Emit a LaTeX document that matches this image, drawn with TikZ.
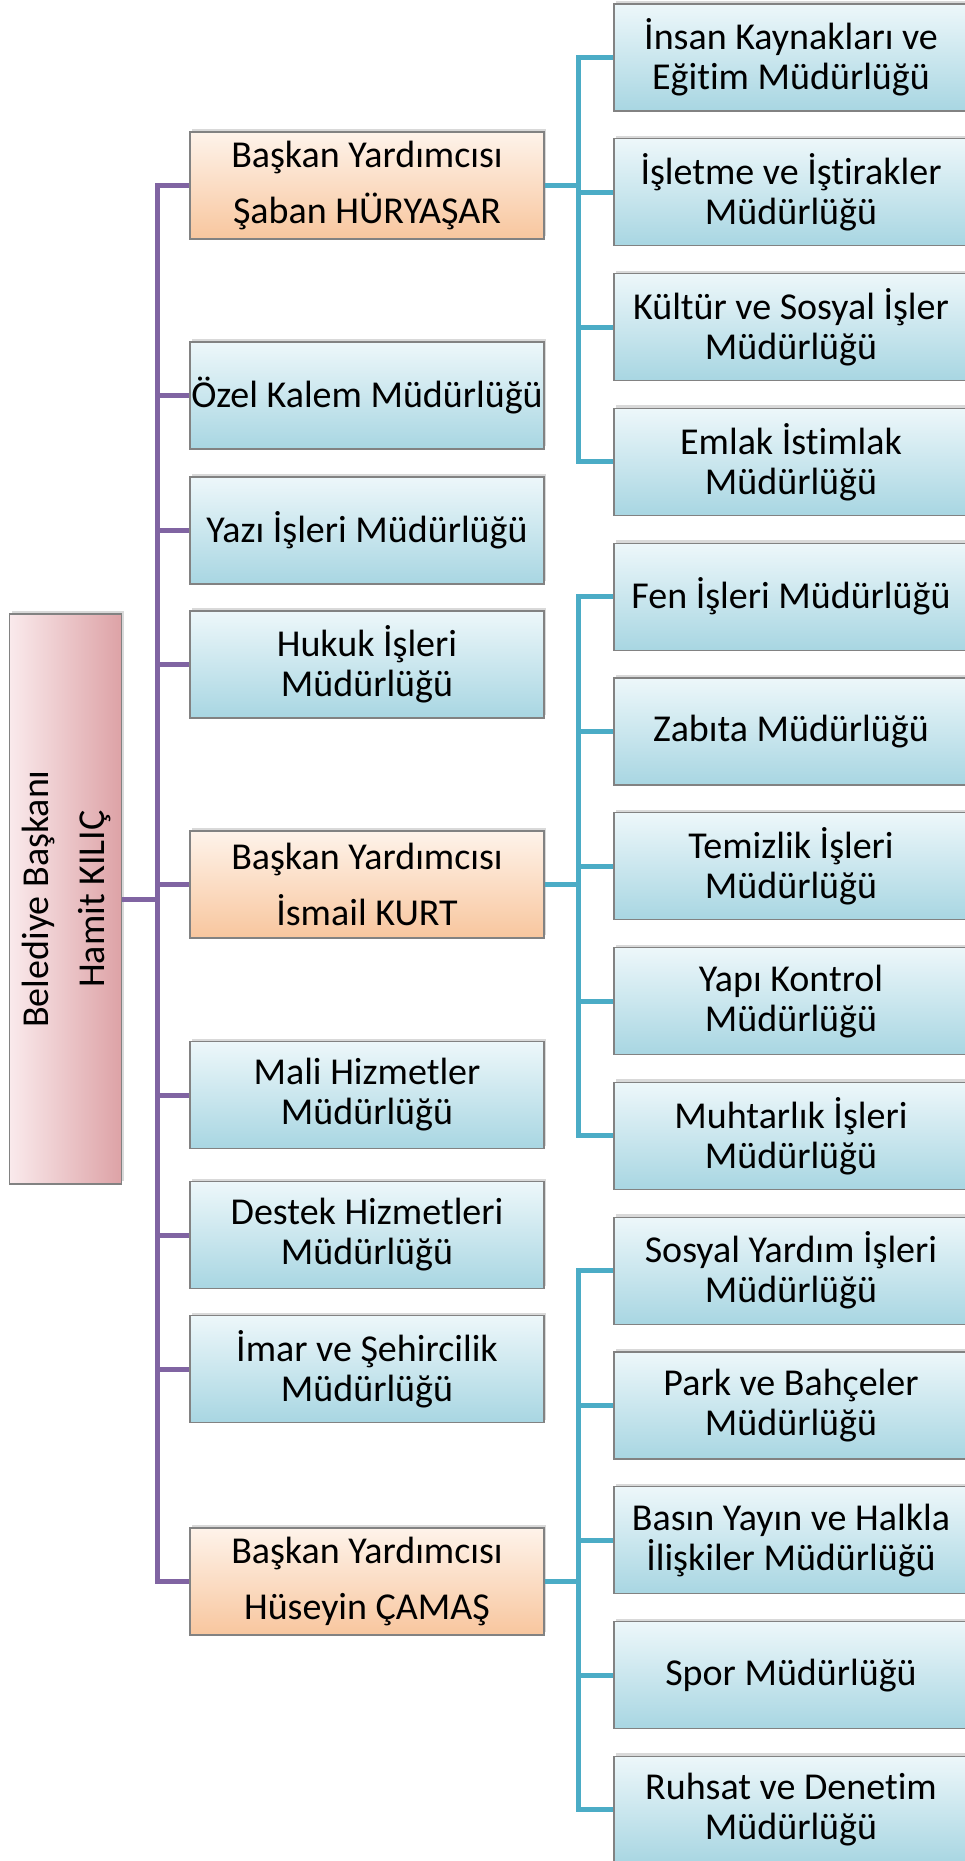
\documentclass[tikz,border=0pt]{standalone}
\usepackage{fontspec}
\setmainfont{Carlito}[Ligatures=NoCommon]
\usepackage{tikz}
\usetikzlibrary{shadows, calc, positioning}

\definecolor{orgpurple}{RGB}{128,100,162}
\definecolor{orgblue}{RGB}{75,172,198}
\definecolor{boxedge}{RGB}{130,130,130}

\tikzset{
  orgbox/.style={draw=boxedge, line width=1.2pt, minimum width=354pt, minimum height=107pt,
    inner xsep=0pt, inner ysep=2pt, align=center, text=black,
    drop shadow={shadow xshift=2pt, shadow yshift=3pt, opacity=0.3}},
  mudbox/.style={orgbox, top color={rgb,255:red,237;green,247;blue,250},
    bottom color={rgb,255:red,168;green,214;blue,226}, font=\fontsize{38}{40}\selectfont},
  yrdbox/.style={orgbox, top color={rgb,255:red,254;green,243;blue,234},
    bottom color={rgb,255:red,248;green,198;blue,158}, font=\fontsize{38}{56}\selectfont},
  rootbox/.style={orgbox, minimum width=107pt, minimum height=570pt,
    left color={rgb,255:red,250;green,234;blue,236}, right color={rgb,255:red,221;green,162;blue,166},
    font=\fontsize{38}{56}\selectfont},
  purpleline/.style={draw=orgpurple, line width=5pt},
  blueline/.style={draw=orgblue, line width=5pt}
}

\begin{document}
\begin{tikzpicture}[x=1pt,y=1pt,yscale=-1,xscale=1]
		\useasboundingbox (0,0) rectangle (964,1861);

		%Shape: Root box
		\node[rootbox] (baskan) at (65.5,899) {\rotatebox{90}{\begin{tabular}{@{}c@{}}Belediye Başkanı\\Hamit KILIÇ\end{tabular}}};

		%Shape: Middle column
		\node[yrdbox] (saban) at (367,185.5) {Başkan Yardımcısı\\Şaban HÜRYAŞAR};
		\node[mudbox] (ozel) at (367,395.5) {Özel Kalem Müdürlüğü};
		\node[mudbox] (yazi) at (367,530.5) {Yazı İşleri Müdürlüğü};
		\node[mudbox] (hukuk) at (367,664.5) {Hukuk İşleri\\Müdürlüğü};
		\node[yrdbox] (ismail) at (367,884.5) {Başkan Yardımcısı\\İsmail KURT};
		\node[mudbox] (mali) at (367,1095) {Mali Hizmetler\\Müdürlüğü};
		\node[mudbox] (destek) at (367,1235) {Destek Hizmetleri\\Müdürlüğü};
		\node[mudbox] (imar) at (367,1369) {İmar ve Şehircilik\\Müdürlüğü};
		\node[yrdbox] (huseyin) at (367,1581.5) {Başkan Yardımcısı\\Hüseyin ÇAMAŞ};

		%Shape: Right column
		\node[mudbox] (insan) at (791,57.5) {İnsan Kaynakları ve\\Eğitim Müdürlüğü};
		\node[mudbox] (isletme) at (791,192.3) {İşletme ve İştirakler\\Müdürlüğü};
		\node[mudbox] (kultur) at (791,327.1) {Kültür ve Sosyal İşler\\Müdürlüğü};
		\node[mudbox] (emlak) at (791,461.9) {Emlak İstimlak\\Müdürlüğü};
		\node[mudbox] (fen) at (791,596.7) {Fen İşleri Müdürlüğü};
		\node[mudbox] (zabita) at (791,731.5) {Zabıta Müdürlüğü};
		\node[mudbox] (temizlik) at (791,866.3) {Temizlik İşleri\\Müdürlüğü};
		\node[mudbox] (yapi) at (791,1001.1) {Yapı Kontrol\\Müdürlüğü};
		\node[mudbox] (muhtarlik) at (791,1135.9) {Muhtarlık İşleri\\Müdürlüğü};
		\node[mudbox] (sosyal) at (791,1270.7) {Sosyal Yardım İşleri\\Müdürlüğü};
		\node[mudbox] (park) at (791,1405.5) {Park ve Bahçeler\\Müdürlüğü};
		\node[mudbox] (basin) at (791,1540.3) {Basın Yayın ve Halkla\\İlişkiler Müdürlüğü};
		\node[mudbox] (spor) at (791,1675.1) {Spor Müdürlüğü};
		\node[mudbox] (ruhsat) at (791,1809.9) {Ruhsat ve Denetim\\Müdürlüğü};

		%Straight Lines: purple tree
		\coordinate (pbus) at ($(baskan.east)+(35,0)$);
		\foreach \m in {saban,ozel,yazi,hukuk,ismail,mali,destek,imar,huseyin}
			\draw[purpleline] (baskan.east) -- (pbus) |- (\m.west);

		%Straight Lines: blue trees
		\foreach \r in {insan,isletme,kultur,emlak}
			\draw[blueline] (saban.east) -- ++(34,0) |- (\r.west);
		\foreach \r in {fen,zabita,temizlik,yapi,muhtarlik}
			\draw[blueline] (ismail.east) -- ++(34,0) |- (\r.west);
		\foreach \r in {sosyal,park,basin,spor,ruhsat}
			\draw[blueline] (huseyin.east) -- ++(34,0) |- (\r.west);

\end{tikzpicture}
\end{document}
